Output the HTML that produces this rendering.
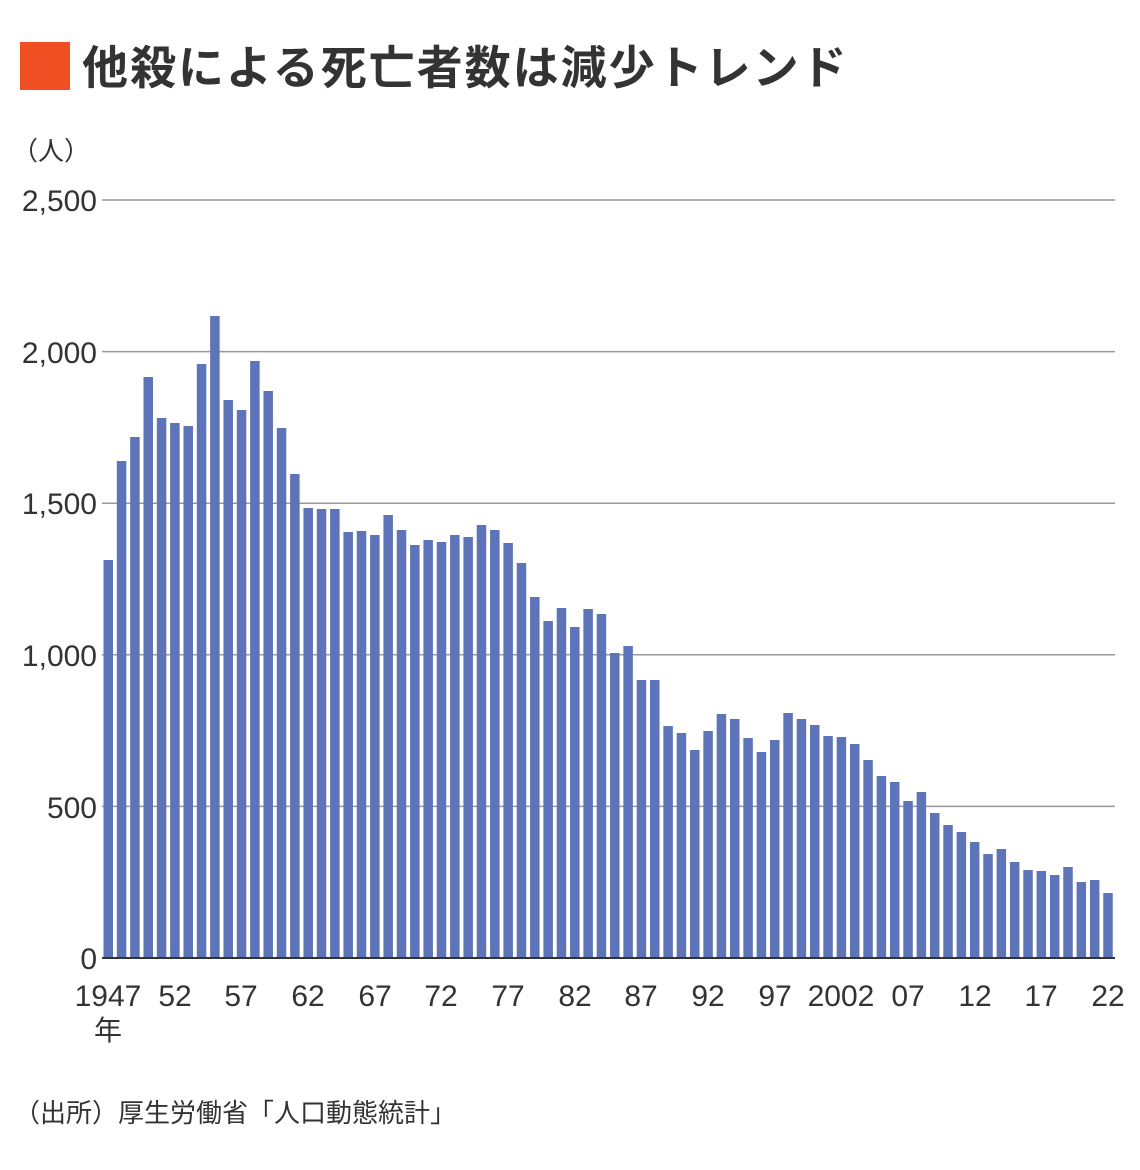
<!DOCTYPE html>
<html><head><meta charset="utf-8"><style>
body{margin:0;background:#fff;}
svg{display:block;font-family:"Liberation Sans","Noto Sans CJK JP",sans-serif;}
</style></head><body>
<svg width="1140" height="1170" xmlns="http://www.w3.org/2000/svg">
<rect x="20" y="42" width="50" height="48" fill="#f04e23"/>
<text x="82" y="84" font-size="46" letter-spacing="2" font-weight="bold" fill="#333" font-family="'Noto Sans CJK JP',sans-serif">他殺による死亡者数は減少トレンド</text>
<text x="12" y="160" font-size="26" fill="#333">（人）</text>
<g stroke="#999" stroke-width="1.5">
<line x1="102" y1="200" x2="1115" y2="200"/>
<line x1="102" y1="351.6" x2="1115" y2="351.6"/>
<line x1="102" y1="503.2" x2="1115" y2="503.2"/>
<line x1="102" y1="654.8" x2="1115" y2="654.8"/>
<line x1="102" y1="806.4" x2="1115" y2="806.4"/>
</g>
<g font-size="30" fill="#333" text-anchor="end">
<text x="97" y="211">2,500</text>
<text x="97" y="363">2,000</text>
<text x="97" y="514">1,500</text>
<text x="97" y="666">1,000</text>
<text x="97" y="818">500</text>
<text x="97" y="969">0</text>
</g>
<g fill="#5d74b8">
<rect x="103.5" y="560" width="9.5" height="398"/>
<rect x="116.83" y="461" width="9.5" height="497"/>
<rect x="130.16" y="437" width="9.5" height="521"/>
<rect x="143.49" y="377" width="9.5" height="581"/>
<rect x="156.82" y="418" width="9.5" height="540"/>
<rect x="170.15" y="423" width="9.5" height="535"/>
<rect x="183.48" y="426" width="9.5" height="532"/>
<rect x="196.81" y="364" width="9.5" height="594"/>
<rect x="210.14" y="316" width="9.5" height="642"/>
<rect x="223.47" y="400" width="9.5" height="558"/>
<rect x="236.8" y="410" width="9.5" height="548"/>
<rect x="250.13" y="361" width="9.5" height="597"/>
<rect x="263.46" y="391" width="9.5" height="567"/>
<rect x="276.79" y="428" width="9.5" height="530"/>
<rect x="290.12" y="474" width="9.5" height="484"/>
<rect x="303.45" y="508" width="9.5" height="450"/>
<rect x="316.78" y="509" width="9.5" height="449"/>
<rect x="330.11" y="509" width="9.5" height="449"/>
<rect x="343.44" y="532" width="9.5" height="426"/>
<rect x="356.77" y="531" width="9.5" height="427"/>
<rect x="370.1" y="535" width="9.5" height="423"/>
<rect x="383.43" y="515" width="9.5" height="443"/>
<rect x="396.76" y="530" width="9.5" height="428"/>
<rect x="410.09" y="545" width="9.5" height="413"/>
<rect x="423.42" y="540" width="9.5" height="418"/>
<rect x="436.75" y="542" width="9.5" height="416"/>
<rect x="450.08" y="535" width="9.5" height="423"/>
<rect x="463.41" y="537" width="9.5" height="421"/>
<rect x="476.74" y="525" width="9.5" height="433"/>
<rect x="490.07" y="530" width="9.5" height="428"/>
<rect x="503.4" y="543" width="9.5" height="415"/>
<rect x="516.73" y="563" width="9.5" height="395"/>
<rect x="530.06" y="597" width="9.5" height="361"/>
<rect x="543.39" y="621" width="9.5" height="337"/>
<rect x="556.72" y="608" width="9.5" height="350"/>
<rect x="570.05" y="627" width="9.5" height="331"/>
<rect x="583.38" y="609" width="9.5" height="349"/>
<rect x="596.71" y="614" width="9.5" height="344"/>
<rect x="610.04" y="653" width="9.5" height="305"/>
<rect x="623.37" y="646" width="9.5" height="312"/>
<rect x="636.7" y="680" width="9.5" height="278"/>
<rect x="650.03" y="680" width="9.5" height="278"/>
<rect x="663.36" y="726" width="9.5" height="232"/>
<rect x="676.69" y="733" width="9.5" height="225"/>
<rect x="690.02" y="750" width="9.5" height="208"/>
<rect x="703.35" y="731" width="9.5" height="227"/>
<rect x="716.68" y="714" width="9.5" height="244"/>
<rect x="730.01" y="719" width="9.5" height="239"/>
<rect x="743.34" y="738" width="9.5" height="220"/>
<rect x="756.67" y="752" width="9.5" height="206"/>
<rect x="770" y="740" width="9.5" height="218"/>
<rect x="783.33" y="713" width="9.5" height="245"/>
<rect x="796.66" y="719" width="9.5" height="239"/>
<rect x="809.99" y="725" width="9.5" height="233"/>
<rect x="823.32" y="736" width="9.5" height="222"/>
<rect x="836.65" y="737" width="9.5" height="221"/>
<rect x="849.98" y="744" width="9.5" height="214"/>
<rect x="863.31" y="760" width="9.5" height="198"/>
<rect x="876.64" y="776" width="9.5" height="182"/>
<rect x="889.97" y="782" width="9.5" height="176"/>
<rect x="903.3" y="801" width="9.5" height="157"/>
<rect x="916.63" y="792" width="9.5" height="166"/>
<rect x="929.96" y="813" width="9.5" height="145"/>
<rect x="943.29" y="825" width="9.5" height="133"/>
<rect x="956.62" y="832" width="9.5" height="126"/>
<rect x="969.95" y="842" width="9.5" height="116"/>
<rect x="983.28" y="854" width="9.5" height="104"/>
<rect x="996.61" y="849" width="9.5" height="109"/>
<rect x="1009.94" y="862" width="9.5" height="96"/>
<rect x="1023.27" y="870" width="9.5" height="88"/>
<rect x="1036.6" y="871" width="9.5" height="87"/>
<rect x="1049.93" y="875" width="9.5" height="83"/>
<rect x="1063.26" y="867" width="9.5" height="91"/>
<rect x="1076.59" y="882" width="9.5" height="76"/>
<rect x="1089.92" y="880" width="9.5" height="78"/>
<rect x="1103.25" y="893" width="9.5" height="65"/>
</g>
<line x1="102" y1="958" x2="1115" y2="958" stroke="#333" stroke-width="2"/>
<g font-size="30" fill="#333" text-anchor="middle">
<text x="108" y="1006">1947</text>
<text x="175" y="1006">52</text>
<text x="241" y="1006">57</text>
<text x="308" y="1006">62</text>
<text x="375" y="1006">67</text>
<text x="441" y="1006">72</text>
<text x="508" y="1006">77</text>
<text x="575" y="1006">82</text>
<text x="641" y="1006">87</text>
<text x="708" y="1006">92</text>
<text x="775" y="1006">97</text>
<text x="841" y="1006">2002</text>
<text x="908" y="1006">07</text>
<text x="975" y="1006">12</text>
<text x="1041" y="1006">17</text>
<text x="1108" y="1006">22</text>
<text x="108" y="1040" font-size="28">年</text>
</g>
<text x="14" y="1122" font-size="26" fill="#333">（出所）厚生労働省「人口動態統計」</text>
</svg>
</body></html>
